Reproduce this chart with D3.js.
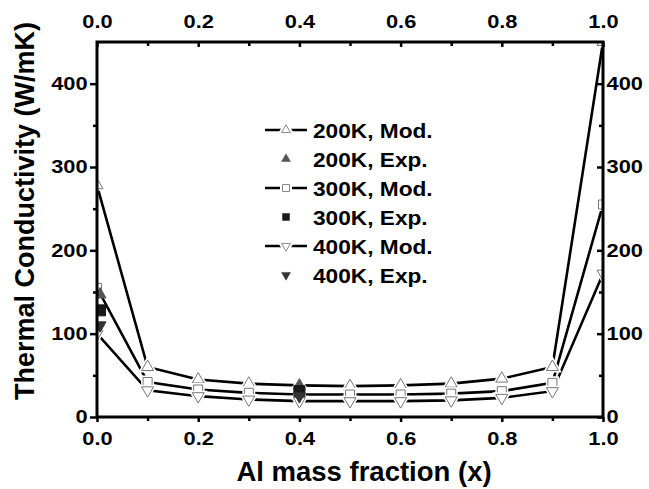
<!DOCTYPE html>
<html>
<head>
<meta charset="utf-8">
<script src="https://cdn.jsdelivr.net/npm/d3@7"></script>
<style>
  body { margin: 0; background: #fff; }
  svg { display: block; font-family: "Liberation Sans", Arial, sans-serif; font-weight: bold; }
</style>
</head>
<body>
<svg width="649" height="489"></svg>
<script>
// Al mass fraction, model curves
const xValues = [0, 0.1, 0.2, 0.3, 0.4, 0.5, 0.6, 0.7, 0.8, 0.9, 1.0];
const mod200K = [278, 60, 45, 40, 38, 37, 38, 40, 46, 60, 450];
const mod300K = [155, 42, 33, 29, 27, 27, 27, 28, 31, 41, 255];
const mod400K = [100, 32, 25, 21, 19, 19, 19, 20, 23, 31, 172];

// experimental points
const expX = [0.006, 0.4];
const exp200K = [147, 37];
const exp300K = [128, 31];
const exp400K = [110, 25];

const xTicks = [0, 0.2, 0.4, 0.6, 0.8, 1.0];
const xMinorTicks = [0.1, 0.3, 0.5, 0.7, 0.9];
const yTicks = [0, 100, 200, 300, 400];
const yMinorTicks = [50, 150, 250, 350];

const legendLabels = ["200K, Mod.", "200K, Exp.", "300K, Mod.", "300K, Exp.", "400K, Mod.", "400K, Exp."];

const svg = d3.select("svg");
const plotL = 97, plotR = 603, plotT = 42, plotB = 417;

const x = d3.scaleLinear().domain([0, 1]).range([plotL, plotR]);
const y = d3.scaleLinear().domain([0, 450]).range([plotB, plotT]);

const TRI = "up", DTRI = "down", SQ = "sq";
const series = [
  { vals: mod200K, shape: TRI },
  { vals: mod300K, shape: SQ },
  { vals: mod400K, shape: DTRI }
];
const expSeries = [
  { vals: exp200K, shape: TRI, fill: "#555" },
  { vals: exp300K, shape: SQ, fill: "#1a1a1a" },
  { vals: exp400K, shape: DTRI, fill: "#333" }
];

function symbolPath(shape, s) {
  if (shape === SQ) return d3.symbol().type(d3.symbolSquare).size(s * s)();
  return d3.symbol().type(d3.symbolTriangle).size(0.433 * s * s)();
}
function symbolTransform(shape, px, py) {
  return `translate(${px},${py})` + (shape === DTRI ? "rotate(180)" : "");
}

// plot-area clip, markers on the frame get cut like in the original
svg.append("defs").append("clipPath").attr("id", "plotClip")
  .append("rect")
  .attr("x", plotL).attr("y", plotT)
  .attr("width", plotR - plotL).attr("height", plotB - plotT);

// ---- axes ----
const tickScale = "scale(1.18,1)";
function styleAxis(g) {
  g.select(".domain").remove();
  g.selectAll("line").attr("stroke", "#000").attr("stroke-width", 2.5);
  g.selectAll("text").attr("fill", "#000").style("font-size", "18.5px").style("font-weight", "bold")
    .style("font-family", '"Liberation Sans", Arial, sans-serif')
    .attr("transform", tickScale);
}

svg.append("g").attr("transform", `translate(0,${plotB})`)
  .call(d3.axisBottom(x).tickValues(xTicks).tickFormat(d3.format(".1f")).tickSize(5).tickPadding(10))
  .call(styleAxis);
svg.append("g").attr("transform", `translate(0,${plotB})`)
  .call(d3.axisBottom(x).tickValues(xMinorTicks).tickFormat("").tickSize(4))
  .call(styleAxis);

svg.append("g").attr("transform", `translate(0,${plotT})`)
  .call(d3.axisTop(x).tickValues(xTicks).tickFormat(d3.format(".1f")).tickSize(-5).tickPadding(14))
  .call(styleAxis);
svg.append("g").attr("transform", `translate(0,${plotT})`)
  .call(d3.axisTop(x).tickValues(xMinorTicks).tickFormat("").tickSize(-4))
  .call(styleAxis);

svg.append("g").attr("transform", `translate(${plotL},0)`)
  .call(d3.axisLeft(y).tickValues(yTicks).tickFormat(d3.format("d")).tickSize(7).tickPadding(1))
  .call(styleAxis);
svg.append("g").attr("transform", `translate(${plotL},0)`)
  .call(d3.axisLeft(y).tickValues(yMinorTicks).tickFormat("").tickSize(4))
  .call(styleAxis);

svg.append("g").attr("transform", `translate(${plotR},0)`)
  .call(d3.axisRight(y).tickValues(yTicks).tickFormat(d3.format("d")).tickSize(-6).tickPadding(3))
  .call(styleAxis);
svg.append("g").attr("transform", `translate(${plotR},0)`)
  .call(d3.axisRight(y).tickValues(yMinorTicks).tickFormat("").tickSize(-4))
  .call(styleAxis);

const plotG = svg.append("g").attr("clip-path", "url(#plotClip)");

// ---- model lines ----
const line = d3.line().x((d, i) => x(xValues[i])).y(d => y(d));
plotG.append("g").selectAll("path")
  .data(series).enter().append("path")
  .attr("d", d => line(d.vals))
  .attr("fill", "none").attr("stroke", "#000").attr("stroke-width", 2.6);

// open markers, white halo makes the gap in the line
series.forEach(s => {
  const g = plotG.append("g");
  const sz = s.shape === SQ ? 9 : 12;
  g.selectAll("path.halo").data(s.vals).enter().append("path")
    .attr("class", "halo")
    .attr("d", symbolPath(s.shape, sz))
    .attr("transform", (d, i) => symbolTransform(s.shape, x(xValues[i]), y(d)))
    .attr("fill", "#fff").attr("stroke", "#fff").attr("stroke-width", 4);
  g.selectAll("path.mk").data(s.vals).enter().append("path")
    .attr("class", "mk")
    .attr("d", symbolPath(s.shape, sz))
    .attr("transform", (d, i) => symbolTransform(s.shape, x(xValues[i]), y(d)))
    .attr("fill", "#fff").attr("stroke", "#777").attr("stroke-width", 1);
});

// filled experimental markers
expSeries.forEach(s => {
  const sz = s.shape === SQ ? 11 : 12;
  plotG.append("g").selectAll("path").data(s.vals).enter().append("path")
    .attr("d", symbolPath(s.shape, sz))
    .attr("transform", (d, i) => symbolTransform(s.shape, x(expX[i]), y(d)))
    .attr("fill", s.fill).attr("stroke", s.fill).attr("stroke-width", 1);
});

// frame on top
svg.append("rect")
  .attr("x", plotL).attr("y", plotT)
  .attr("width", plotR - plotL).attr("height", plotB - plotT)
  .attr("fill", "none").attr("stroke", "#000").attr("stroke-width", 3);

// ---- legend ----
const legend = svg.append("g").attr("transform", "translate(265,130)");
const rowH = 29;
const legendItems = legendLabels.map((label, i) => {
  const base = i % 2 === 0 ? series[i / 2] : expSeries[(i - 1) / 2];
  return { label: label, shape: base.shape, model: i % 2 === 0, fill: base.fill };
});

const rows = legend.selectAll("g").data(legendItems).enter().append("g")
  .attr("transform", (d, i) => `translate(0,${i * rowH})`);

rows.filter(d => d.model).append("line")
  .attr("x1", 0).attr("x2", 42).attr("y1", 0).attr("y2", 0)
  .attr("stroke", "#000").attr("stroke-width", 2.6);
rows.filter(d => d.model).append("path")
  .attr("d", d => symbolPath(d.shape, d.shape === SQ ? 7 : 9))
  .attr("transform", d => symbolTransform(d.shape, 21, 0))
  .attr("fill", "#fff").attr("stroke", "#fff").attr("stroke-width", 5);
rows.filter(d => d.model).append("path")
  .attr("d", d => symbolPath(d.shape, d.shape === SQ ? 7 : 9))
  .attr("transform", d => symbolTransform(d.shape, 21, 0))
  .attr("fill", "#fff").attr("stroke", "#888").attr("stroke-width", 1);
rows.filter(d => !d.model).append("path")
  .attr("d", d => symbolPath(d.shape, d.shape === SQ ? 7 : 9))
  .attr("transform", d => symbolTransform(d.shape, 21, 0))
  .attr("fill", d => d.fill).attr("stroke", d => d.fill).attr("stroke-width", 0.5);

rows.append("text")
  .attr("transform", "translate(48,7.5) scale(1.08,1)")
  .style("font-size", "21px")
  .attr("fill", "#000")
  .text(d => d.label);

// ---- titles ----
svg.append("text")
  .attr("transform", "translate(34,211) rotate(-90)")
  .attr("text-anchor", "middle")
  .style("font-size", "27px")
  .text("Thermal Conductivity (W/mK)");

svg.append("text")
  .attr("x", 364).attr("y", 481)
  .attr("text-anchor", "middle")
  .style("font-size", "27.5px")
  .text("Al mass fraction (x)");
</script>
</body>
</html>
